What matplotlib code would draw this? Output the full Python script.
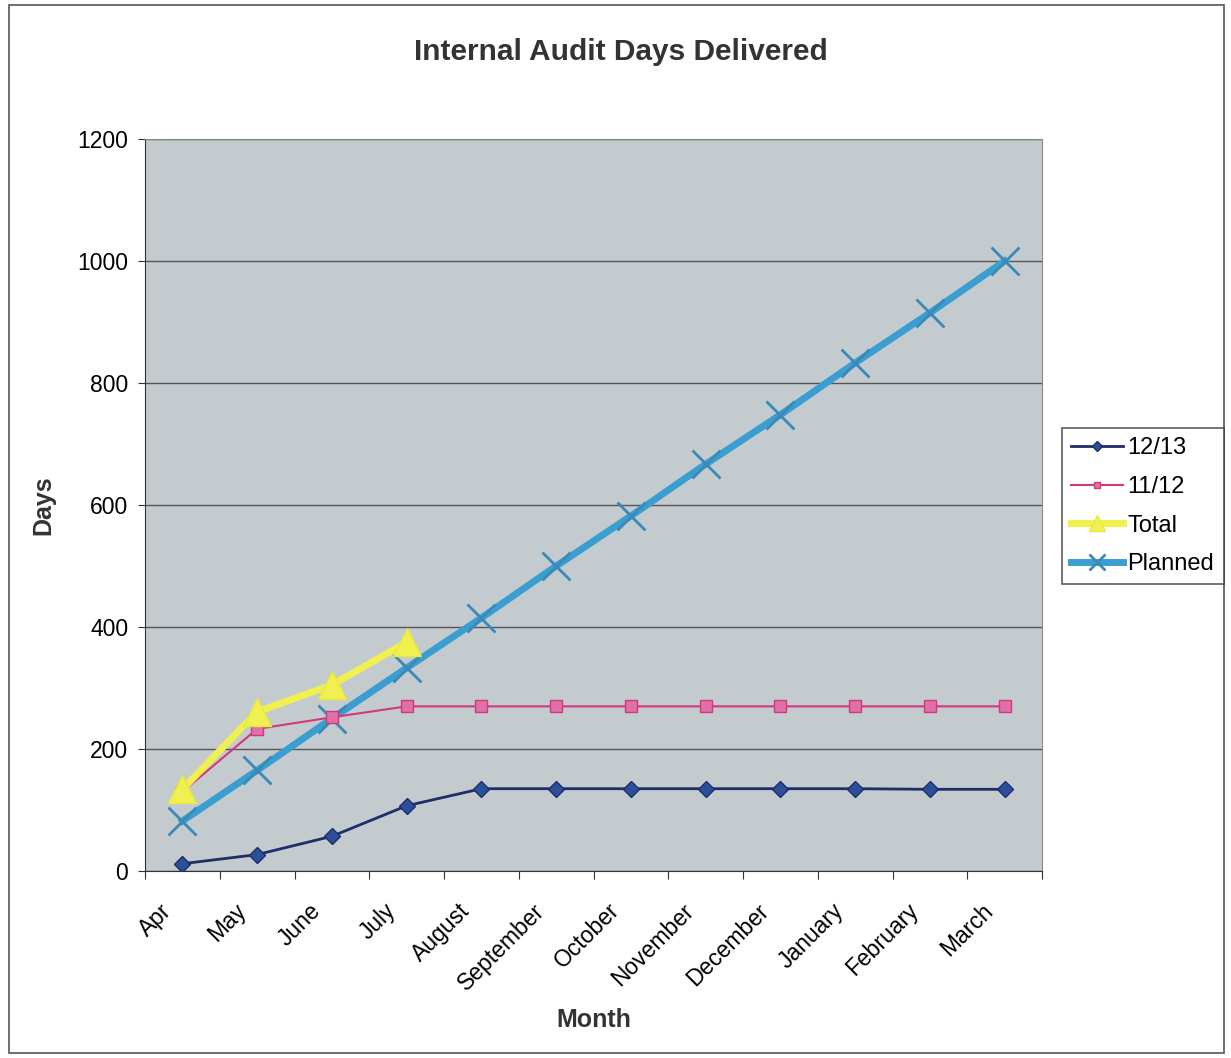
import matplotlib.pyplot as plt
from matplotlib.patches import Rectangle
from matplotlib.transforms import ScaledTranslation

plt.rcParams['font.family'] = ['Liberation Sans', 'DejaVu Sans']

months = ['Apr', 'May', 'June', 'July', 'August', 'September', 'October',
          'November', 'December', 'January', 'February', 'March']

# Cumulative days per month
days_1213 = [12, 27, 57, 107, 135, 135, 135, 135, 135, 135, 134, 134]
days_1112 = [130, 233, 252, 270, 270, 270, 270, 270, 270, 270, 270, 270]
days_total = [134, 261, 305, 375]
days_planned = [82, 165, 250, 333, 415, 500, 582, 667, 748, 833, 915, 1000]

fig = plt.figure(figsize=(12.31, 10.58), dpi=100)
ax = fig.add_axes([0.1178, 0.1767, 0.7287, 0.6919])
ax.set_facecolor('#c3cbcf')

# outer frame round the whole chart
fig.patches.append(Rectangle((0.007, 0.005), 0.987, 0.99, transform=fig.transFigure,
                             fill=False, edgecolor='#555555', linewidth=1.2))

x = list(range(len(months)))
ax.plot(x, days_planned, color='#3a9fd0', linewidth=5, marker='x', markersize=20,
        markeredgewidth=2, markeredgecolor='#3a8ab8', label='Planned', zorder=3)
ax.plot(x, days_1112, color='#d03a7c', linewidth=1.5, marker='s', markersize=8,
        markerfacecolor='#e070a8', markeredgecolor='#d03a7c', label='11/12', zorder=4)
ax.plot(x, days_1213, color='#1e2e6a', linewidth=2, marker='D', markersize=8,
        markerfacecolor='#2d4f9a', markeredgecolor='#1e2e6a', label='12/13', zorder=4)
ax.plot(x[:len(days_total)], days_total, color='#f0f050', linewidth=5, marker='^',
        markersize=20, markerfacecolor='#f0f050', markeredgecolor='#e8e840',
        label='Total', zorder=5)

ax.set_xlim(-0.5, len(months) - 0.5)
ax.set_ylim(0, 1200)
ax.set_yticks(range(0, 1201, 200))
ax.grid(axis='y', color='#555555', linewidth=1)
ax.set_axisbelow(True)

# ticks sit between the categories, month names drawn under each category
ax.set_xticks([i - 0.5 for i in range(len(months) + 1)])
ax.set_xticklabels([])
ax.tick_params(axis='x', length=6, color='#333333')
ax.tick_params(axis='y', length=5, pad=7, labelsize=16.5, color='#333333')

label_tr = ax.get_xaxis_transform() + ScaledTranslation(-0.23, -0.28, fig.dpi_scale_trans)
for i, m in zip(x, months):
    ax.text(i, 0, m, transform=label_tr, rotation=45, ha='right', va='top',
            rotation_mode='anchor', fontsize=16.5)

for side in ['top', 'right']:
    ax.spines[side].set_color('#888888')
for side in ['left', 'bottom']:
    ax.spines[side].set_color('#333333')

fig.text(0.5045, 1 - 52 / 1058, 'Internal Audit Days Delivered', fontsize=21.5,
         fontweight='bold', color='#333333', ha='center', va='center')
ax.set_xlabel('Month', fontsize=18, fontweight='bold', color='#333333')
ax.set_ylabel('Days', fontsize=18, fontweight='bold', color='#333333')
ax.xaxis.set_label_coords(0.5, -0.187)
ax.yaxis.set_label_coords(-0.100, 0.5)

handles, labels = ax.get_legend_handles_labels()
order = [2, 1, 3, 0]
leg = fig.legend([handles[i] for i in order], [labels[i] for i in order],
                 loc='upper left', bbox_to_anchor=(1062 / 1231, 1 - 428 / 1058),
                 fontsize=17, frameon=True, fancybox=False, edgecolor='#333333',
                 handlelength=2.2, handletextpad=0.17, borderpad=0.4,
                 borderaxespad=0, labelspacing=0.7, markerscale=0.6)
leg.get_frame().set_linewidth(1.2)

fig.savefig('out.png', dpi=100, facecolor='white')
